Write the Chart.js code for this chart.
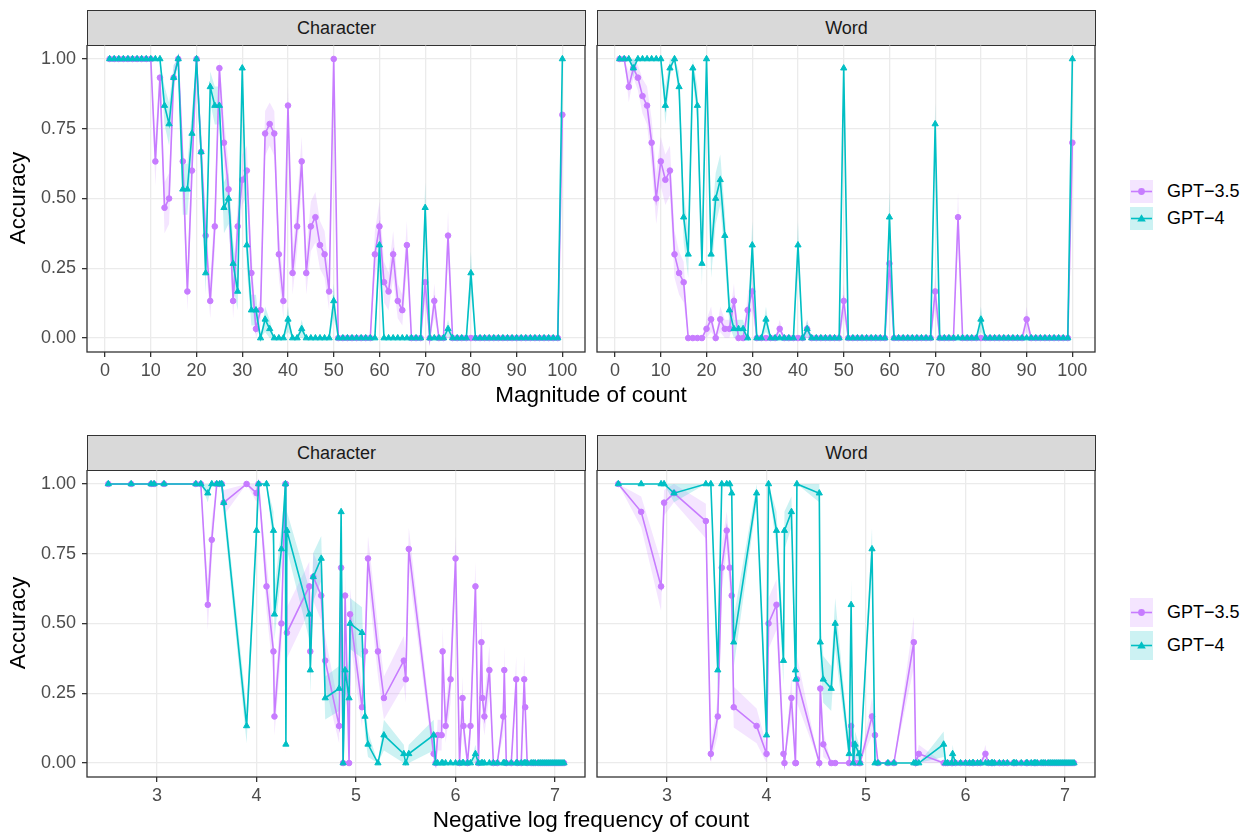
<!DOCTYPE html>
<html><head><meta charset="utf-8">
<script src="https://cdn.jsdelivr.net/npm/chart.js@4.4.1/dist/chart.umd.min.js"></script>
<style>
body{margin:0;background:#fff;width:1252px;height:834px;position:relative;overflow:hidden;font-family:"Liberation Sans",Arial,sans-serif;}
.box{position:absolute;}
.strip{position:absolute;background:#D9D9D9;border:1.3px solid #333;box-sizing:border-box;color:#1A1A1A;font-size:18px;display:flex;align-items:center;justify-content:center;}
.ytitle{position:absolute;width:200px;height:26px;line-height:26px;text-align:center;font-size:22.5px;color:#000;transform:rotate(-90deg);}
.xtitle{position:absolute;width:600px;height:26px;line-height:26px;text-align:center;font-size:22.5px;color:#000;}
.leg{position:absolute;display:flex;align-items:center;font-size:18px;color:#000;}
.leg svg{margin-right:14px;}
</style></head><body>

<div class="strip" style="left:87px;top:10px;width:499px;height:36px;">Character</div>
<div class="strip" style="left:597px;top:10px;width:499px;height:36px;">Word</div>
<div class="strip" style="left:87px;top:435px;width:499px;height:36px;">Character</div>
<div class="strip" style="left:597px;top:435px;width:499px;height:36px;">Word</div>

<div class="box" style="left:0;top:45px;width:590px;height:342px;"><canvas id="c1"></canvas></div>
<div class="box" style="left:587px;top:45px;width:513px;height:342px;"><canvas id="c2"></canvas></div>
<div class="box" style="left:0;top:470px;width:590px;height:342px;"><canvas id="c3"></canvas></div>
<div class="box" style="left:587px;top:470px;width:513px;height:342px;"><canvas id="c4"></canvas></div>

<div class="ytitle" style="left:-82px;top:185px;">Accuracy</div>
<div class="ytitle" style="left:-82px;top:610px;">Accuracy</div>
<div class="xtitle" style="left:291px;top:382px;">Magnitude of count</div>
<div class="xtitle" style="left:291px;top:807px;">Negative log frequency of count</div>

<div id="legTop"></div>
<div id="legBot"></div>

<script>
// ---------- data ----------
const seriesNames = ["GPT\u22123.5", "GPT\u22124"];
const magnitude = Array.from({length:100}, (_, i) => i + 1);
const trialsPerItem = 30;

const charGpt35 = [1,1,1,1,1,1,1,1,1,1, 0.633,0.933,0.467,0.5,0.933,1,0.633,0.167,0.6,1,
  0.667,0.367,0.133,0.4,0.967,0.7,0.533,0.133,0.4,0.567, 0.6,0.233,0.033,0.1,0.733,0.767,0.733,0.3,0.133,0.833,
  0.233,0.4,0.633,0.233,0.4,0.433,0.333,0.3,0.167,1, 0,0,0,0,0,0,0,0,0.3,0.4,
  0.2,0.167,0.3,0.133,0.1,0.333,0,0,0,0.2, 0,0.133,0,0,0.367,0,0,0,0,0,
  0,0,0,0,0,0,0,0,0,0, 0,0,0,0,0,0,0,0,0,0.8];
const charGpt4 = [1,1,1,1,1,1,1,1,1,1, 1,1,0.833,0.767,0.933,1,0.533,0.533,0.733,1,
  0.667,0.233,0.9,0.833,0.833,0.467,0.5,0.267,0.167,0.967, 0.333,0.1,0.1,0,0.067,0.033,0,0,0,0.067,
  0,0,0.033,0,0,0,0,0,0,0.133, 0,0,0,0,0,0,0,0,0,0.333,
  0,0,0,0,0,0,0,0,0,0.467, 0,0,0,0,0.033,0,0,0,0,0.233,
  0,0,0,0,0,0,0,0,0,0, 0,0,0,0,0,0,0,0,0,1];
const wordGpt35 = [1,1,0.9,0.967,0.933,0.867,0.833,0.7,0.5,0.633, 0.567,0.6,0.3,0.233,0.2,0,0,0,0,0.033,
  0.067,0,0.067,0.033,0.033,0.133,0,0,0.1,0.167, 0,0,0,0,0,0.033,0,0,0,0,
  0,0.033,0,0,0,0,0,0,0,0.133, 0,0,0,0,0,0,0,0,0,0.267,
  0,0,0,0,0,0,0,0,0,0.167, 0,0,0,0,0.433,0,0,0,0,0,
  0,0,0,0,0,0,0,0,0,0.067, 0,0,0,0,0,0,0,0,0,0.7];
const wordGpt4 = [1,1,1,0.967,1,1,1,1,1,1, 0.833,0.967,1,0.9,0.433,0.3,0.967,0.833,0.267,1,
  0.3,0.5,0.567,0.367,0.1,0.033,0.033,0.033,0,0.333, 0,0,0.067,0,0,0,0,0,0,0.333,
  0,0.033,0,0,0,0,0,0,0,0.967, 0,0,0,0,0,0,0,0,0,0.433,
  0,0,0,0,0,0,0,0,0,0.767, 0,0,0,0,0,0,0,0,0,0.067,
  0,0,0,0,0,0,0,0,0,0, 0,0,0,0,0,0,0,0,0,1];

const negLogFreq = [2.51,2.74,2.94,2.97,3.07,3.39,3.44,3.51,3.55,3.60, 3.63,3.65,3.67,3.90,4.00,4.02,4.10,4.17,4.18,4.25,
  4.29,4.295,4.305,4.53,4.54,4.57,4.65,4.69,4.83,4.85, 4.87,4.89,4.93,4.94,5.06,5.09,5.12,5.22,5.28,5.48,
  5.50,5.53,5.78,5.80,5.82,5.86,5.87,5.90,5.95,6.00, 6.04,6.07,6.08,6.12,6.15,6.20,6.23,6.26,6.27,6.29,
  6.34,6.38,6.42,6.48,6.49,6.51,6.56,6.61,6.62,6.66, 6.69,6.70,6.72,6.76,6.78,6.80,6.83,6.85,6.87,6.89,
  6.91,6.93,6.95,6.97,6.99,7.01,7.03,7.05,7.07,7.09];
const freqCharGpt35 = [1,1,1,1,1,1,1,0.567,0.8,1, 1,1,0.933,1,0.967,1,0.633,0.4,0.167,0.5,
  1,1,0.467,0.633,0.4,0.667,0.6,0.367,0.133,0.7, 0,0.6,0,0.533,0.2,0.4,0.733,0.4,0.233,0.367,
  0.3,0.767,0.033,0,0.1,0.1,0.4,0.133,0.3,0.733, 0,0.233,0.133,0,0.133,0.633,0,0.433,0.233,0.167,
  0.333,0,0,0.167,0.333,0,0,0.3,0,0, 0.3,0.2,0,0,0,0,0,0,0,0,
  0,0,0,0,0,0,0,0,0,0];
const freqCharGpt4 = [1,1,1,1,1,1,1,0.967,1,1, 1,1,0.933,0.133,0.833,1,1,0.833,0.533,0.767,
  1,0.067,0.833,0.533,0.333,0.667,0.733,0.233,0.267,0.9, 0,0.333,0.233,0.5,0.467,0.167,0.067,0,0.1,0.033,
  0,0.033,0.1,0,0,0,0,0,0,0, 0,0,0,0,0,0.033,0,0,0,0,
  0,0,0,0,0,0,0,0,0,0, 0,0,0,0,0,0,0,0,0,0,
  0,0,0,0,0,0,0,0,0,0];
const freqWordGpt35 = [1,0.9,0.633,0.933,0.967,0.867,0.033,0.167,0.7,0.833, 0.7,0.6,0.2,0.133,0.033,0.5,0.567,0.033,0,0.233,
  0,0,0.3,0,0.267,0.067,0,0,0,0.133, 0.067,0,0,0,0.167,0.1,0,0,0,0.433,
  0,0.033,0,0,0,0,0,0,0,0, 0,0,0,0,0,0.033,0,0,0,0,
  0,0,0,0,0,0,0,0,0,0, 0,0,0,0,0,0,0,0,0,0,
  0,0,0,0,0,0,0,0,0,0];
const freqWordGpt4 = [1,1,1,1,0.967,1,1,0.333,1,1, 1,0.967,0.433,0.967,0.1,1,0.833,0.367,0.833,0.9,
  0.333,0.3,1,0.967,0.433,0.3,0.267,0.5,0.033,0.567, 0,0.067,0.033,0,0.767,0,0,0,0,0,
  0,0,0.067,0,0,0,0.033,0,0,0, 0,0,0,0,0,0,0,0,0,0,
  0,0,0,0,0,0,0,0,0,0, 0,0,0,0,0,0,0,0,0,0,
  0,0,0,0,0,0,0,0,0,0];

const magnitudeTicks = [0,10,20,30,40,50,60,70,80,90,100];
const freqTicks = [3,4,5,6,7];
const accuracyTicks = [0,0.25,0.5,0.75,1];

// ---------- drawing ----------
const PURPLE = '#C77CFF', TEAL = '#00BFC4';
const PURPLE_BAND = 'rgba(199,124,255,0.2)', TEAL_BAND = 'rgba(0,191,196,0.2)';
const FONT = '"Liberation Sans", Arial, sans-serif';

const panelBorder = {
  id: 'panelBorder',
  afterDraw(chart) {
    const {ctx, chartArea: a} = chart;
    ctx.save();
    ctx.strokeStyle = '#333333';
    ctx.lineWidth = 1.3;
    ctx.strokeRect(a.left, a.top, a.right - a.left, a.bottom - a.top);
    ctx.restore();
  }
};

function pts(xs, ys) { return xs.map((x, i) => ({x: x, y: ys[i]})); }
// standard-error band of each accuracy (derived from the read values)
function band(xs, ys, sign) {
  return xs.map((x, i) => ({x: x, y: ys[i] + sign * Math.sqrt(ys[i] * (1 - ys[i]) / trialsPerItem)}));
}

function seriesSets(xs, ys, name, color, bandColor, shape, radius, order) {
  return [
    {label: name + ' hi', data: band(xs, ys, 1), borderWidth: 0, pointRadius: 0, fill: false,
     backgroundColor: bandColor, borderColor: 'transparent', tension: 0, order: order + 10},
    {label: name + ' lo', data: band(xs, ys, -1), borderWidth: 0, pointRadius: 0, fill: '-1',
     backgroundColor: bandColor, borderColor: 'transparent', tension: 0, order: order + 10},
    {label: name, data: pts(xs, ys), borderColor: color, backgroundColor: color,
     pointStyle: shape, pointRadius: radius, pointBorderWidth: 1, pointBorderColor: color,
     borderWidth: 1.6, tension: 0, fill: false, order: order}
  ];
}

function makeChart(id, xs, y35, y4, xTicks, xMin, xMax, showY) {
  const ds = [].concat(
    seriesSets(xs, y35, seriesNames[0], PURPLE, PURPLE_BAND, 'circle', 2.8, 2),
    seriesSets(xs, y4, seriesNames[1], TEAL, TEAL_BAND, 'triangle', 3.6, 1)
  );
  new Chart(document.getElementById(id), {
    type: 'line',
    data: {datasets: ds},
    options: {
      responsive: true, maintainAspectRatio: false, animation: false,
      layout: {autoPadding: false, padding: {left: 0, right: 5, top: 0, bottom: 0}},
      plugins: {legend: {display: false}, tooltip: {enabled: false}},
      scales: {
        x: {
          type: 'linear', min: xMin, max: xMax,
          afterBuildTicks: s => { s.ticks = xTicks.map(v => ({value: v})); },
          ticks: {color: '#4D4D4D', font: {size: 18, family: FONT}, padding: 3, maxRotation: 0, autoSkip: false,
                  callback: v => String(v)},
          grid: {color: '#EBEBEB', lineWidth: 1.3, tickColor: '#333333', tickLength: 5, tickWidth: 1.3},
          border: {display: false},
          afterFit: s => { s.height = 35; s.paddingLeft = 0; s.paddingRight = 0; }
        },
        y: {
          type: 'linear', min: -0.05, max: 1.05,
          afterBuildTicks: s => { s.ticks = accuracyTicks.map(v => ({value: v})); },
          ticks: {display: showY, color: '#4D4D4D', font: {size: 18, family: FONT}, padding: 6,
                  callback: v => v.toFixed(2)},
          grid: {color: '#EBEBEB', lineWidth: 1.3, tickColor: '#333333', tickLength: 5, tickWidth: 1.3, drawTicks: showY},
          border: {display: false},
          afterFit: s => { s.width = showY ? 87 : 10; s.paddingTop = 0; s.paddingBottom = 0; }
        }
      }
    },
    plugins: [panelBorder]
  });
}

makeChart('c1', magnitude, charGpt35, charGpt4, magnitudeTicks, -3.95, 104.95, true);
makeChart('c2', magnitude, wordGpt35, wordGpt4, magnitudeTicks, -3.95, 104.95, false);
makeChart('c3', negLogFreq, freqCharGpt35, freqCharGpt4, freqTicks, 2.296, 7.301, true);
makeChart('c4', negLogFreq, freqWordGpt35, freqWordGpt4, freqTicks, 2.296, 7.301, false);

// ---------- legends ----------
function keySvg(color, fill, shape, h) {
  const w = 23, cy = h / 2, cx = w / 2;
  const mark = shape === 'circle'
    ? `<circle cx="${cx}" cy="${cy}" r="3.4" fill="${color}"/>`
    : `<polygon points="${cx},${cy-4.3} ${cx+4.3},${cy+3.1} ${cx-4.3},${cy+3.1}" fill="${color}"/>`;
  return `<svg width="${w}" height="${h}"><rect x="0" y="0" width="${w}" height="${h}" fill="${fill}"/>` +
    `<line x1="1" y1="${cy}" x2="${w-1}" y2="${cy}" stroke="${color}" stroke-width="1.6"/>${mark}</svg>`;
}
function legend(el, top, h, gap) {
  const items = [[PURPLE, PURPLE_BAND, 'circle'], [TEAL, TEAL_BAND, 'triangle']];
  let html = '';
  items.forEach((it, i) => {
    html += `<div class="leg" style="left:1130px;top:${top + i * (h + gap)}px;height:${h}px;">` +
      keySvg(it[0], it[1], it[2], h) + `<span>${seriesNames[i]}</span></div>`;
  });
  document.getElementById(el).innerHTML = html;
}
legend('legTop', 180, 23, 4);
legend('legBot', 598, 29, 4);
</script>
</body></html>
